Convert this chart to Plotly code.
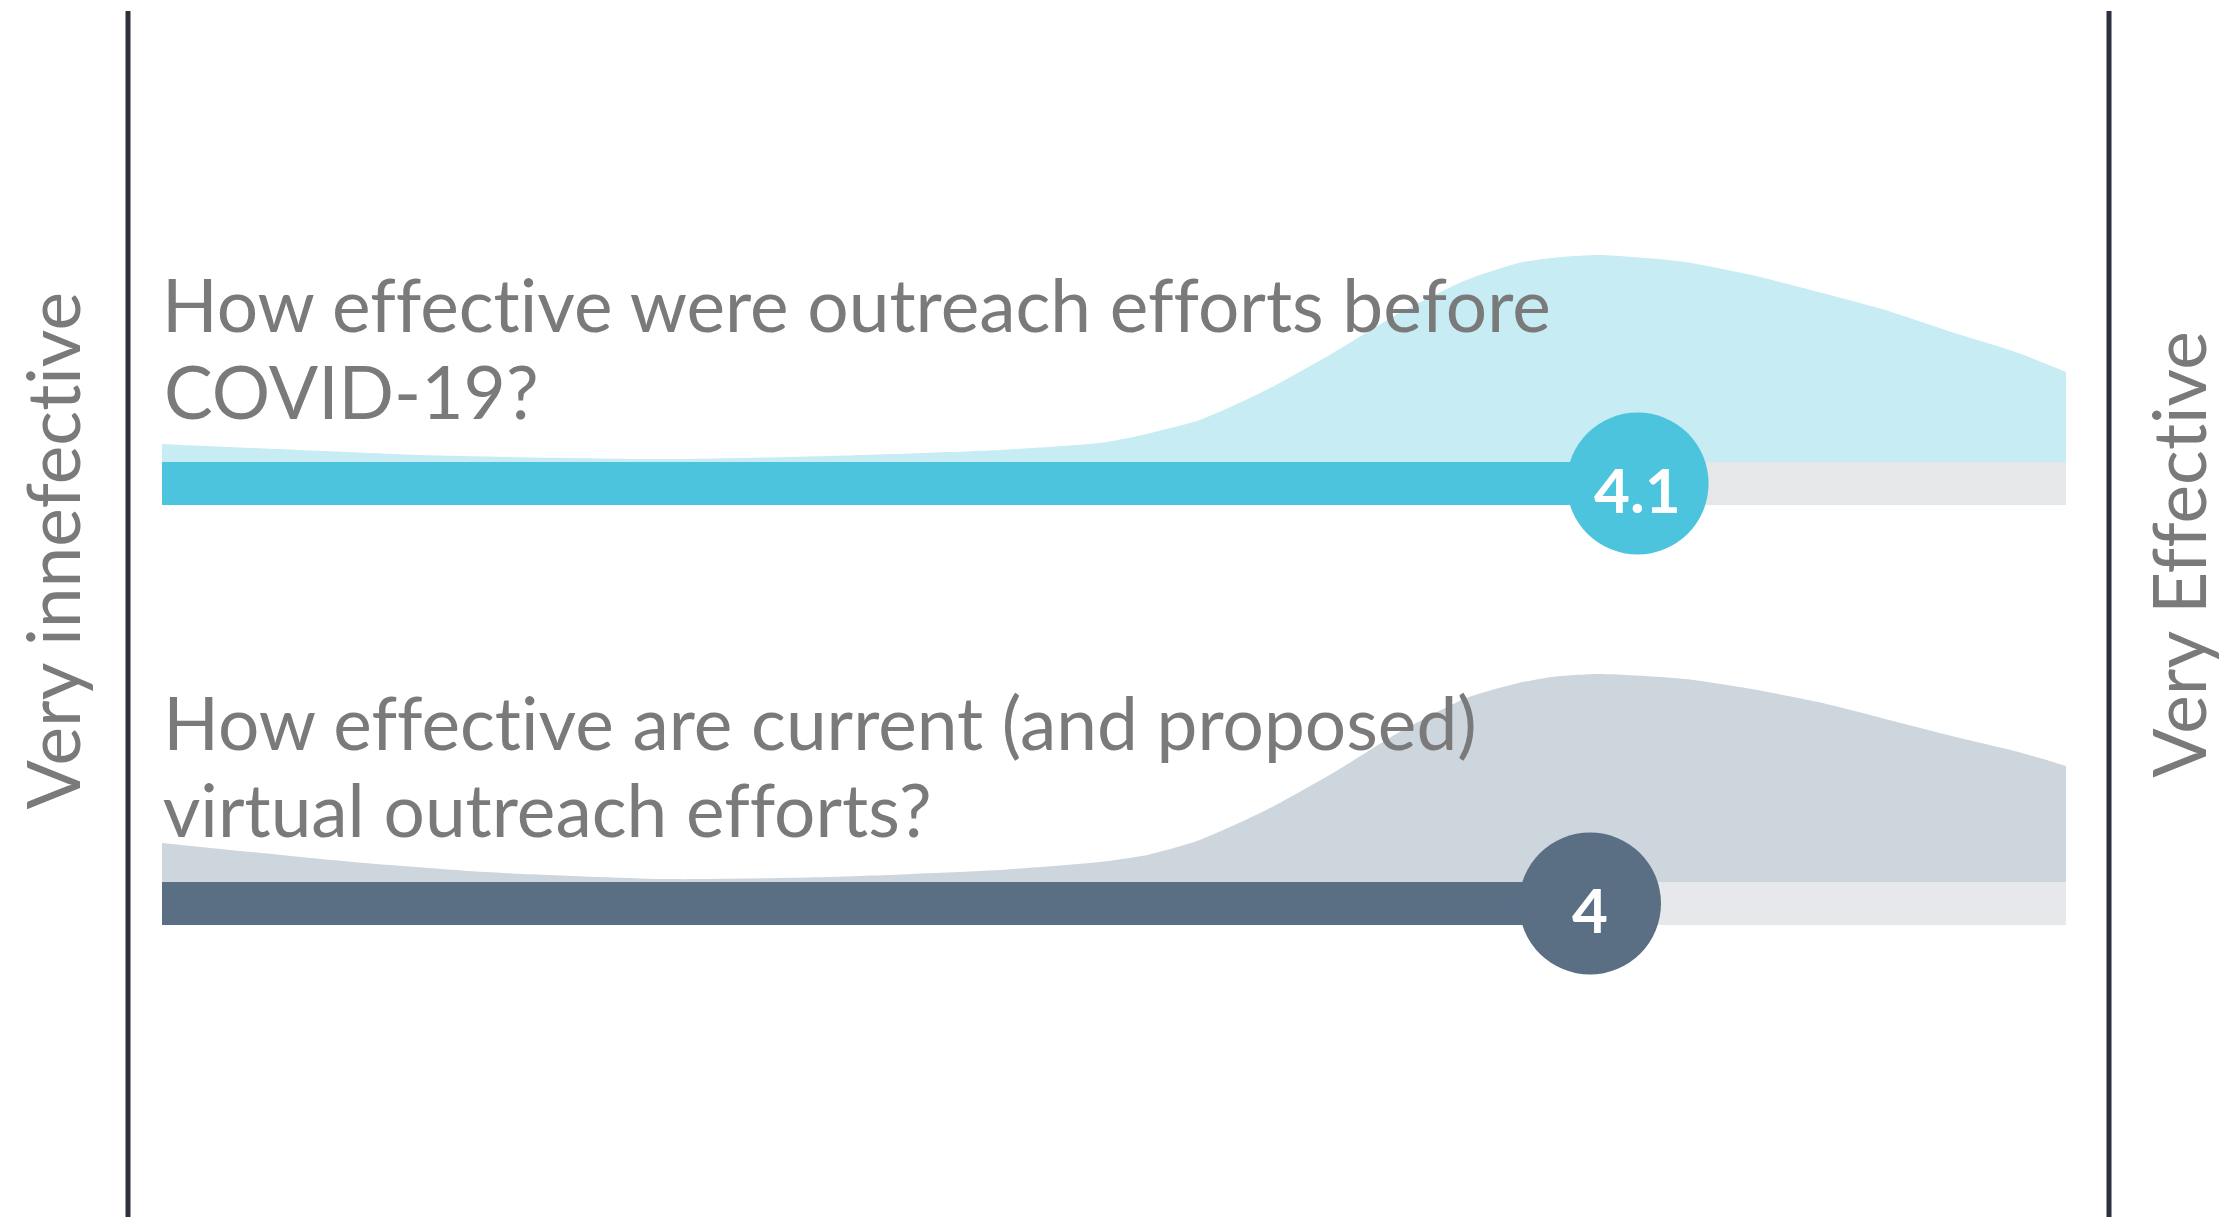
import plotly.graph_objects as go

# ---- data -------------------------------------------------------------
scale_min, scale_max = 1, 5
scale_labels = ["Very innefective", "Very Effective"]

questions = [
    ["How effective were outreach efforts before", "COVID-19?"],
    ["How effective are current (and proposed)", "virtual outreach efforts?"],
]
means = [4.1, 4.0]
mean_labels = ["4.1", "4"]

# response distribution (relative density, peak = 100) sampled along the scale
density_x_before = [1.0, 1.54, 2.07, 2.4, 2.76, 2.97, 3.04, 3.18, 3.32, 3.46, 3.60,
                    3.74, 3.85, 3.92, 4.02, 4.20, 4.34, 4.48, 4.62, 4.76, 4.90, 5.0]
density_before = [8.7, 3.4, 1.4, 2.9, 5.8, 9.1, 12.0, 20.2, 34.6, 52.4, 71.6,
                  87.5, 95.7, 98.1, 99.5, 96.2, 89.9, 81.7, 73.1, 62.5, 52.4, 43.3]

density_x_virtual = [1.0, 1.40, 1.68, 2.07, 2.4, 2.76, 2.97, 3.07, 3.18, 3.32, 3.46, 3.60,
                     3.74, 3.85, 3.92, 4.02, 4.20, 4.34, 4.48, 4.62, 4.76, 4.90, 5.0]
density_virtual = [18.8, 9.6, 4.8, 1.4, 2.4, 5.8, 9.6, 13.0, 20.2, 34.6, 52.4, 72.1,
                   88.5, 95.7, 98.6, 100, 97.6, 92.8, 86.5, 78.4, 70.2, 62.5, 55.8]

densities_x = [density_x_before, density_x_virtual]
densities = [density_before, density_virtual]

# ---- styling / layout ---------------------------------------------------
W, H = 2230, 1217
PX0 = 162          # pixel position of scale_min
PX_PER_UNIT = 476  # pixels per scale unit
DENS_PX = 2.08     # pixels per density unit
BAR_H = 43
bar_centers = [483.5, 903.5]
text_baselines = [[330, 417], [748, 835]]

bar_colors = ["#4DC4DD", "#5A6E84"]
area_colors = ["#C8ECF4", "#CDD5DD"]
track_colors = ["#E6E7E9", "#E6E8EB"]
text_color = "#7A7A7A"
rule_color = "#2C313B"
FONT = "Lato"
Q_SIZE = 73

fig = go.Figure()

for i in range(2):
    yc = bar_centers[i]
    base = yc - BAR_H / 2
    xs = densities_x[i]
    ys = [base - d * DENS_PX for d in densities[i]]
    # baseline of the distribution area (top edge of the bar)
    fig.add_trace(go.Scatter(
        x=[xs[0], xs[-1]], y=[base, base], mode="lines",
        line=dict(width=0, color=area_colors[i]),
        hoverinfo="skip", showlegend=False))
    # distribution area sitting on the bar
    fig.add_trace(go.Scatter(
        x=xs, y=ys, mode="lines", fill="tonexty", fillcolor=area_colors[i],
        line=dict(width=0, shape="spline", smoothing=0.6, color=area_colors[i]),
        hoverinfo="skip", showlegend=False))
    # full-scale track
    fig.add_trace(go.Bar(
        y=[yc], x=[scale_max - scale_min], base=[scale_min], orientation="h",
        width=BAR_H, marker=dict(color=track_colors[i], line=dict(width=0)),
        hoverinfo="skip", showlegend=False))
    # mean bar
    fig.add_trace(go.Bar(
        y=[yc], x=[means[i] - scale_min], base=[scale_min], orientation="h",
        width=BAR_H, marker=dict(color=bar_colors[i], line=dict(width=0)),
        hoverinfo="skip", showlegend=False))
    # mean bubble
    fig.add_trace(go.Scatter(
        x=[means[i]], y=[yc], mode="markers",
        marker=dict(size=142, color=bar_colors[i], line=dict(width=0)),
        hoverinfo="skip", showlegend=False))
    fig.add_annotation(
        xref="x", yref="y", x=means[i], y=yc, yshift=-5,
        xanchor="center", yanchor="middle", text=mean_labels[i], showarrow=False,
        font=dict(family=FONT, size=62, color="white", weight=700))
    # question text, one annotation per line
    for line, bl in zip(questions[i], text_baselines[i]):
        fig.add_annotation(
            xref="paper", yref="paper", x=PX0 / W, y=1 - (bl - 0.35 * Q_SIZE) / H,
            xanchor="left", yanchor="middle", text=line, showarrow=False,
            font=dict(family=FONT, size=Q_SIZE, color=text_color))

# end-of-scale labels
fig.add_annotation(xref="paper", yref="paper", x=52 / W, y=1 - 551 / H,
                   xanchor="center", yanchor="middle", textangle=-90,
                   text=scale_labels[0], showarrow=False,
                   font=dict(family=FONT, size=Q_SIZE, color=text_color))
fig.add_annotation(xref="paper", yref="paper", x=2178 / W, y=1 - 555 / H,
                   xanchor="center", yanchor="middle", textangle=-90,
                   text=scale_labels[1], showarrow=False,
                   font=dict(family=FONT, size=Q_SIZE, color=text_color))

# boundary rules
for xp in (128, 2109):
    fig.add_shape(type="line", xref="paper", yref="paper",
                  x0=xp / W, x1=xp / W, y0=0, y1=1 - 11 / H,
                  line=dict(color=rule_color, width=5))

fig.update_layout(
    width=W, height=H, margin=dict(l=0, r=0, t=0, b=0),
    paper_bgcolor="white", plot_bgcolor="white",
    barmode="overlay", bargap=0,
    xaxis=dict(range=[scale_min - PX0 / PX_PER_UNIT, scale_min + (W - PX0) / PX_PER_UNIT],
               visible=False, fixedrange=True),
    yaxis=dict(range=[H, 0], visible=False, fixedrange=True),
)

# plain letterforms: no "ti"/"ff" ligatures in the labels
no_ligatures = """
document.querySelectorAll('svg text').forEach(function (t) {
  t.style.fontVariantLigatures = 'none';
  t.style.fontFeatureSettings = '"liga" 0, "clig" 0';
});
"""

fig.write_html("out.html", post_script=no_ligatures)
